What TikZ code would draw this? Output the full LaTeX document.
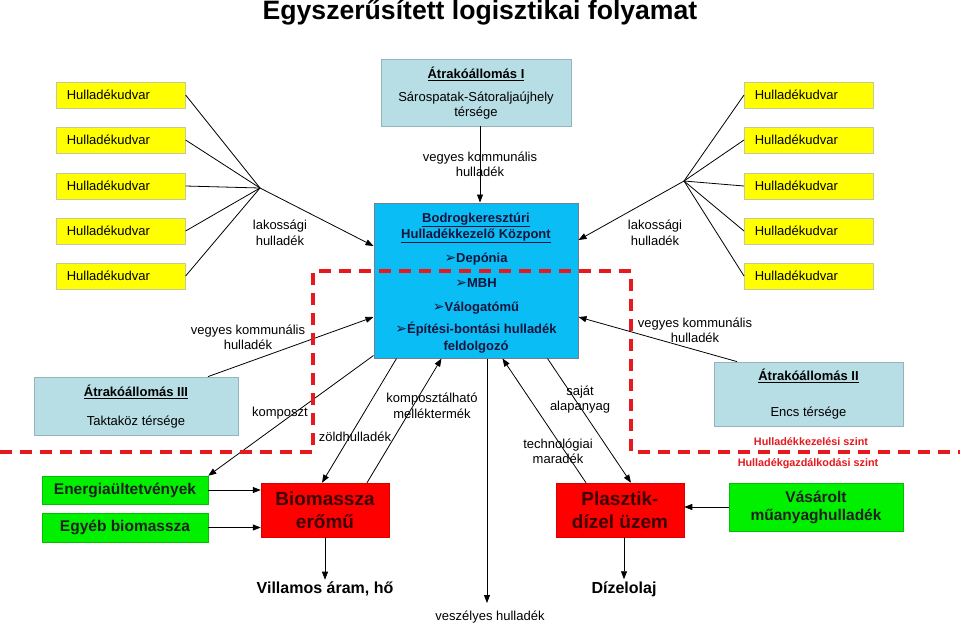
\documentclass[tikz,border=0pt]{standalone}
\usepackage{fontspec}
\setmainfont{Liberation Sans}
\newfontfamily\symfont{DejaVu Sans}
\usetikzlibrary{arrows.meta}
\definecolor{ylw}{RGB}{255,255,0}
\definecolor{ylwborder}{RGB}{200,200,150}
\definecolor{grayblue}{RGB}{183,221,229}
\definecolor{graybluebd}{RGB}{150,180,190}
\definecolor{cyanbox}{RGB}{10,190,245}
\definecolor{cyanbd}{RGB}{110,130,140}
\definecolor{redbox}{RGB}{255,0,0}
\definecolor{greenbox}{RGB}{0,240,0}
\definecolor{dashred}{RGB}{230,25,30}
\definecolor{navytxt}{RGB}{20,20,60}
\definecolor{maroontxt}{RGB}{60,0,0}
\newcommand\arrbullet{{\fontsize{14}{14}\symfont ➢}}
\tikzset{
  yard/.style={draw=ylwborder, fill=ylw, line width=0.6pt, minimum height=26pt,
    text width=108pt, inner xsep=10.5pt, inner ysep=0pt, align=left,
    font=\fontsize{13}{15.5}\selectfont},
  station/.style={draw=graybluebd, fill=grayblue, line width=0.8pt, inner sep=0pt},
  stxt/.style={font=\fontsize{13}{15.5}\selectfont, inner sep=0pt},
  lbl/.style={font=\fontsize{13}{15.5}\selectfont, align=center, inner sep=0pt},
  greenb/.style={fill=greenbox, draw=greenbox!80!black, line width=0.5pt, inner sep=0pt,
    align=center, text=black!88, font=\fontsize{15.5}{18}\selectfont\bfseries},
  redb/.style={fill=redbox, draw=redbox!85!black, line width=0.5pt, inner sep=0pt,
    align=center, text=maroontxt, font=\fontsize{19}{23}\selectfont\bfseries},
  outtxt/.style={font=\fontsize{16}{19}\selectfont\bfseries, inner sep=2pt},
  levtxt/.style={font=\fontsize{10.8}{13}\selectfont\bfseries, text=dashred, inner sep=0pt},
  arr/.style={-{Triangle[length=8pt,width=6pt]}, line width=0.8pt},
  fan/.style={line width=0.8pt},
}
\begin{document}
\begin{tikzpicture}[x=1pt,y=-1pt]
\useasboundingbox (0,0) rectangle (960,625);
\fill[white] (0,0) rectangle (960,625);

% title
\node[font=\fontsize{26.6}{30}\selectfont\bfseries, inner sep=0pt] (title) at (480,13) {Egyszerűsített logisztikai folyamat};

% yellow boxes
\foreach \i/\yy in {1/95,2/140,3/186,4/231,5/276}{
  \node[yard, anchor=west] (yl\i) at (56,\yy) {Hulladékudvar};
  \node[yard, anchor=west] (yr\i) at (744,\yy) {Hulladékudvar};
}

% stations
\node[station, minimum width=190pt, minimum height=67pt] (at1) at (476,92.5) {};
\node[stxt, font=\fontsize{13}{15.5}\selectfont\bfseries] (at1a) at (476,74) {\underline{Átrakóállomás I}};
\node[stxt, align=center] (at1b) at (476,105.5) {Sárospatak-Sátoraljaújhely\\térsége};

\node[station, minimum width=204pt, minimum height=58pt] (at3) at (136,406) {};
\node[stxt, font=\fontsize{13}{15.5}\selectfont\bfseries] (at3a) at (136,392) {\underline{Átrakóállomás III}};
\node[stxt] (at3b) at (136,422) {Taktaköz térsége};

\node[station, minimum width=189pt, minimum height=64pt] (at2) at (808.5,394) {};
\node[stxt, font=\fontsize{13}{15.5}\selectfont\bfseries] (at2a) at (808.5,376) {\underline{Átrakóállomás II}};
\node[stxt] (at2b) at (808.5,413) {Encs térsége};

% central box
\node[draw=cyanbd, fill=cyanbox, line width=1pt, minimum width=204pt, minimum height=155pt, inner sep=0pt] (hk) at (476,280.5) {};
\node[align=center, inner sep=0pt, text=navytxt, font=\fontsize{13}{16}\selectfont\bfseries] (hktext) at (476,283) {%
\underline{Bodrogkeresztúri}\\
\underline{Hulladékkezelő Központ}\\[8pt]
\arrbullet Depónia\\[9pt]
\arrbullet MBH\\[8pt]
\arrbullet Válogatómű\\[6pt]
\arrbullet Építési-bontási hulladék\\[1pt]
feldolgozó};

% lower boxes
\node[greenb, minimum width=166pt, minimum height=28pt] (en) at (125,490) {Energiaültetvények};
\node[greenb, minimum width=166pt, minimum height=29pt] (eb) at (125,527.5) {Egyéb biomassza};
\node[redb, minimum width=128pt, minimum height=54pt] (bio) at (325,510) {Biomassza\\erőmű};
\node[redb, minimum width=128pt, minimum height=54pt] (pl) at (620,510) {Plasztik-\\dízel üzem};
\node[greenb, minimum width=174pt, minimum height=48pt] (va) at (816,507) {Vásárolt\\műanyaghulladék};

\node[outtxt] (vill) at (325,589) {Villamos áram, hő};
\node[outtxt] (diz) at (624,589) {Dízelolaj};
\node[lbl] (veszl) at (490,617) {veszélyes hulladék};
\coordinate (vesz) at (487,603);

% level labels
\node[levtxt] (lev1) at (811,442) {Hulladékkezelési szint};
\node[levtxt] (lev2) at (808,464) {Hulladékgazdálkodási szint};

% fans
\coordinate (lf) at (260,188);
\coordinate (rf) at (684,181);
\foreach \i in {1,...,5}{
  \draw[fan] (yl\i.east) -- (lf);
  \draw[fan] (yr\i.west) -- (rf);
}
\draw[arr] (lf) -- ([yshift=34.5pt]hk.west);
\draw[arr] (rf) -- ([yshift=40.5pt]hk.east);

% connectors
\draw[arr] ([xshift=4pt]at1.south) -- ([xshift=4pt]hk.north);
\draw[arr] ([xshift=72pt]at3.north) -- ([yshift=-36.5pt]hk.west);
\draw[arr] ([xshift=-71.5pt]at2.north) -- ([yshift=-36.5pt]hk.east);
\draw[arr] ([yshift=3pt]hk.south west) -- (en.north east);
\draw[arr] ([xshift=23pt]hk.south west) -- ([xshift=-3pt]bio.north);
\draw[arr] ([xshift=42pt]bio.north) -- ([xshift=68pt]hk.south west);
\draw[arr] ([xshift=11pt]hk.south) -- (vesz);
\draw[arr] ([xshift=-34pt]pl.north) -- ([xshift=129pt]hk.south west);
\draw[arr] ([xshift=174pt]hk.south west) -- ([xshift=11pt]pl.north);
\draw[arr] (en.east) -- (bio.west |- en.east);
\draw[arr] (eb.east) -- (bio.west |- eb.east);
\draw[arr] (bio.south) -- (vill.north);
\draw[arr] ([xshift=4pt]pl.south) -- (diz.north);
\draw[arr] (va.west) -- (pl.east |- va.west);

% flow labels
\node[lbl] (l1) at (480,164.5) {vegyes kommunális\\hulladék};
\node[lbl] (l2) at (280,233) {lakossági\\hulladék};
\node[lbl] (l3) at (655,233) {lakossági\\hulladék};
\node[lbl] (l4) at (248,337.5) {vegyes kommunális\\hulladék};
\node[lbl] (l5) at (695,330.5) {vegyes kommunális\\hulladék};
\node[lbl] (l6) at (280,413) {komposzt};
\node[lbl] (l7) at (355,437) {zöldhulladék};
\node[lbl] (l8) at (432,406) {komposztálható\\melléktermék};
\node[lbl] (l9) at (580,399.5) {saját\\alapanyag};
\node[lbl] (l10) at (558,451.5) {technológiai\\maradék};

% level boundary
\draw[dashred, line width=4pt, dash pattern=on 12pt off 8pt]
  (0,452) -- (313,452) -- (313,271) -- (631,271) -- (631,452) -- (960,452);
\end{tikzpicture}
\end{document}
